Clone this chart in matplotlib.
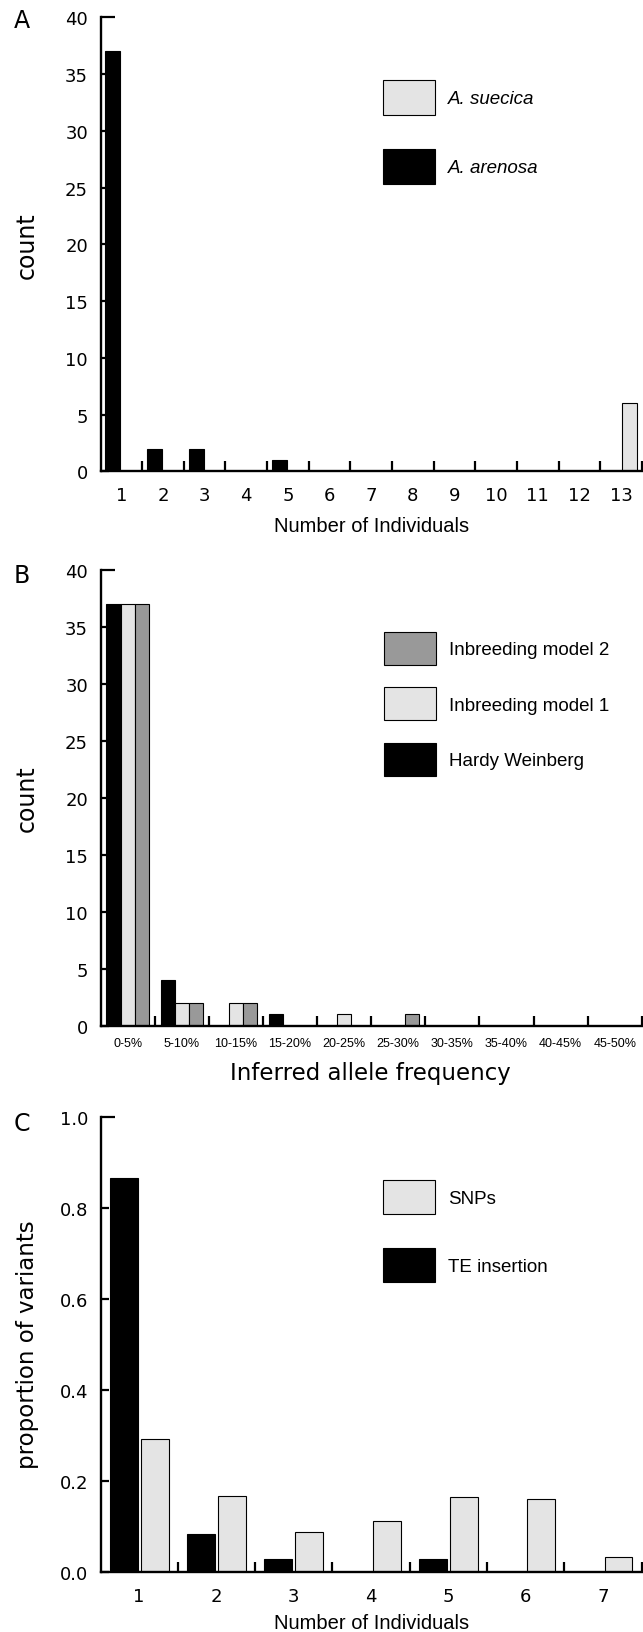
import numpy as np
import matplotlib
matplotlib.use('Agg')
import matplotlib.pyplot as plt

# Panel A: number of individuals carrying a TE insertion
a_individuals = [1, 2, 3, 4, 5, 6, 7, 8, 9, 10, 11, 12, 13]
a_suecica = [0, 0, 0, 0, 0, 0, 0, 0, 0, 0, 0, 0, 6]
a_arenosa = [37, 2, 2, 0, 1, 0, 0, 0, 0, 0, 0, 0, 0]

# Panel B: inferred allele frequency under three models
b_bins = ['0-5%', '5-10%', '10-15%', '15-20%', '20-25%', '25-30%',
          '30-35%', '35-40%', '40-45%', '45-50%']
b_hardy = [37, 4, 0, 1, 0, 0, 0, 0, 0, 0]
b_inbr1 = [37, 2, 2, 0, 1, 0, 0, 0, 0, 0]
b_inbr2 = [37, 2, 2, 0, 0, 1, 0, 0, 0, 0]

# Panel C: proportion of variants
c_individuals = [1, 2, 3, 4, 5, 6, 7]
c_snps = [0.292, 0.167, 0.087, 0.112, 0.163, 0.159, 0.032]
c_te = [0.866, 0.083, 0.028, 0.0, 0.028, 0.0, 0.0]

light = '#e4e4e4'
mid = '#999999'

plt.rcParams['font.family'] = 'DejaVu Sans'
fig = plt.figure(figsize=(6.43, 16.33), dpi=100)
axA = fig.add_axes([0.1563, 0.7108, 0.8418, 0.2780])
axB = fig.add_axes([0.1563, 0.3713, 0.8418, 0.2791])
axC = fig.add_axes([0.1563, 0.0370, 0.8418, 0.2786])

arial = {'family': 'Liberation Sans', 'size': 13.5}


def opmaak(ax, n, ymax, yticks, xpad):
    ax.set_xlim(0.5, n + 0.5)
    ax.set_ylim(0, ymax)
    ax.spines['top'].set_visible(False)
    ax.spines['right'].set_visible(False)
    ax.spines['left'].set_linewidth(1.7)
    ax.spines['bottom'].set_linewidth(1.7)
    ax.set_axisbelow(True)
    ax.set_xticks(np.arange(1, n + 1))
    ax.set_xticks(np.arange(1.5, n + 1), minor=True)
    ax.set_yticks(yticks)
    ax.tick_params(axis='x', which='major', length=0, pad=xpad, labelsize=13)
    ax.tick_params(axis='x', which='minor', direction='in', length=7.2, width=1.6)
    ax.tick_params(axis='y', direction='in', length=6, width=1.6, pad=9, labelsize=13)
    # bovenste tick is langer
    ax.yaxis.get_major_ticks()[-1].tick1line.set_markersize(10)


def legenda(ax, anchor, hh, spacing, prop):
    h, l = ax.get_legend_handles_labels()
    ax.legend(h[::-1], l[::-1], loc='upper left', bbox_to_anchor=anchor,
              frameon=False, borderpad=0, borderaxespad=0, handlelength=2.77,
              handleheight=hh, handletextpad=0.7, labelspacing=spacing, prop=prop)


# A
axA.bar(np.array(a_individuals) - 0.2, a_arenosa, 0.36, color='k', edgecolor='k',
        lw=0.8, label='A. arenosa')
axA.bar(np.array(a_individuals) + 0.2, a_suecica, 0.36, color=light, edgecolor='k',
        lw=0.8, label='A. suecica')
opmaak(axA, 13, 40, np.arange(0, 41, 5), 10.4)
axA.set_ylabel('count', fontsize=17)
axA.yaxis.set_label_coords(-0.114, 0.5)
axA.set_xlabel('Number of Individuals', fontdict=arial | {'size': 14.5})
axA.xaxis.set_label_coords(0.5, -0.098)
legenda(axA, (0.522, 0.862), 2.5, 1.81, arial | {'style': 'italic'})

# B
xb = np.arange(1, len(b_bins) + 1)
axB.bar(xb - 0.26, b_hardy, 0.26, color='k', edgecolor='k', lw=0.8, label='Hardy Weinberg')
axB.bar(xb, b_inbr1, 0.26, color=light, edgecolor='k', lw=0.8, label='Inbreeding model 1')
axB.bar(xb + 0.26, b_inbr2, 0.26, color=mid, edgecolor='k', lw=0.8, label='Inbreeding model 2')
opmaak(axB, len(b_bins), 40, np.arange(0, 41, 5), 8.3)
axB.set_xticklabels(b_bins, family='Liberation Sans', fontsize=9)
axB.set_ylabel('count', fontsize=17)
axB.yaxis.set_label_coords(-0.114, 0.5)
axB.set_xlabel('Inferred allele frequency', fontsize=16.5)
axB.xaxis.set_label_coords(0.498, -0.0775)
legenda(axB, (0.524, 0.8646), 2.33, 1.21, arial)

# C
axC.bar(np.array(c_individuals) - 0.2, c_te, 0.36, color='k', edgecolor='k',
        lw=0.8, label='TE insertion')
axC.bar(np.array(c_individuals) + 0.2, c_snps, 0.36, color=light, edgecolor='k',
        lw=0.8, label='SNPs')
opmaak(axC, 7, 1.0, np.arange(0, 1.01, 0.2), 11)
axC.set_yticklabels(['0.0', '0.2', '0.4', '0.6', '0.8', '1.0'])
axC.set_ylabel('proportion of variants', fontsize=16.5)
axC.yaxis.set_label_coords(-0.113, 0.5)
axC.set_xlabel('Number of Individuals', fontdict=arial | {'size': 14.5})
axC.xaxis.set_label_coords(0.5, -0.091)
legenda(axC, (0.522, 0.861), 2.41, 1.81, arial)

# panelletters
for ax, letter, y in [(axA, 'A', 0.993), (axB, 'B', 0.988), (axC, 'C', 0.987)]:
    ax.text(-0.145, y, letter, transform=ax.transAxes, fontsize=17,
            ha='center', va='center')

fig.savefig('out.png', dpi=100)
